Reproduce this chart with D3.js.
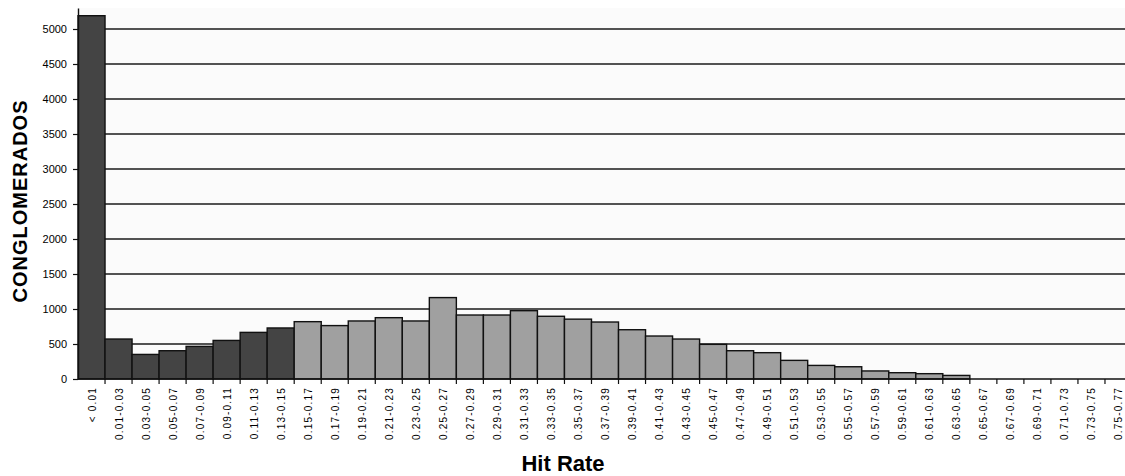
<!DOCTYPE html>
<html lang="es">

<head>
    <meta charset="UTF-8">
    <title>Hit Rate</title>
    <style>
        body { margin: 0; background: #fff; }
        svg text { font-family: "Liberation Sans", Arial, sans-serif; }
    </style>
</head>

<body>

    <div id="my_dataviz"></div>

    <script src="https://d3js.org/d3.v7.min.js"></script>

    <script type="text/javascript">

        // categorias del histograma
        var categories = ["< 0.01", "0.01-0.03", "0.03-0.05", "0.05-0.07", "0.07-0.09", "0.09-0.11",
            "0.11-0.13", "0.13-0.15", "0.15-0.17", "0.17-0.19", "0.19-0.21", "0.21-0.23", "0.23-0.25",
            "0.25-0.27", "0.27-0.29", "0.29-0.31", "0.31-0.33", "0.33-0.35", "0.35-0.37", "0.37-0.39",
            "0.39-0.41", "0.41-0.43", "0.43-0.45", "0.45-0.47", "0.47-0.49", "0.49-0.51", "0.51-0.53",
            "0.53-0.55", "0.55-0.57", "0.57-0.59", "0.59-0.61", "0.61-0.63", "0.63-0.65", "0.65-0.67",
            "0.67-0.69", "0.69-0.71", "0.71-0.73", "0.73-0.75", "0.75-0.77"];

        // numero de conglomerados por clase
        var values = [5190, 571, 351, 404, 466, 551, 666, 729, 819, 763, 829, 876, 829,
            1163, 914, 914, 976, 896, 855, 814, 704, 614, 571, 495, 404, 376, 266,
            194, 175, 115, 90, 76, 51, 0, 0, 0, 0, 0, 0];

        // las primeras clases van en gris oscuro
        var darkCount = 8;

        var yTicks = [0, 500, 1000, 1500, 2000, 2500, 3000, 3500, 4000, 4500, 5000];

        var width = 1125, height = 476;
        var margin = { top: 8, left: 78, right: 1132, bottom: 379 };

        var svg = d3.select("#my_dataviz")
            .append("svg")
            .attr("width", width)
            .attr("height", height);

        var x = d3.scaleBand()
            .domain(categories)
            .range([margin.left, margin.right])
            .padding(0);

        var y = d3.scaleLinear()
            .domain([0, 5300])
            .range([margin.bottom, margin.top]);

        // fondo del area de trazado
        svg.append("rect")
            .attr("x", margin.left)
            .attr("y", margin.top)
            .attr("width", margin.right - margin.left)
            .attr("height", margin.bottom - margin.top)
            .attr("fill", "#fbfbfb");

        // lineas de cuadricula
        svg.append("g")
            .selectAll("line")
            .data(yTicks.slice(1))
            .enter()
            .append("line")
            .attr("x1", margin.left)
            .attr("x2", margin.right)
            .attr("y1", function (d) { return y(d); })
            .attr("y2", function (d) { return y(d); })
            .attr("stroke", "#1a1a1a")
            .attr("stroke-width", 1.4);

        // barras
        svg.append("g")
            .selectAll("rect")
            .data(values)
            .enter()
            .append("rect")
            .attr("x", function (d, i) { return x(categories[i]); })
            .attr("y", function (d) { return y(d); })
            .attr("width", x.bandwidth())
            .attr("height", function (d) { return y(0) - y(d); })
            .attr("fill", function (d, i) { return i < darkCount ? "#444444" : "#a0a0a0"; })
            .attr("stroke", function (d) { return d > 0 ? "#111" : "none"; })
            .attr("stroke-width", 1.4);

        // eje Y
        var yAxis = svg.append("g")
            .attr("transform", "translate(" + margin.left + ",0)")
            .call(d3.axisLeft(y).tickValues(yTicks).tickFormat(d3.format("d"))
                .tickSizeInner(5).tickSizeOuter(0).tickPadding(6));
        yAxis.select(".domain").attr("stroke", "#111").attr("stroke-width", 1.4);
        yAxis.selectAll(".tick line").attr("stroke", "#111").attr("stroke-width", 1.2);
        yAxis.selectAll("text")
            .style("font-size", "11px")
            .attr("fill", "#000");

        // eje X con marcas en los limites de clase
        svg.append("line")
            .attr("x1", margin.left)
            .attr("x2", margin.right)
            .attr("y1", y(0))
            .attr("y2", y(0))
            .attr("stroke", "#111")
            .attr("stroke-width", 1.6);

        svg.append("g")
            .selectAll("line")
            .data(categories)
            .enter()
            .append("line")
            .attr("x1", function (d) { return x(d) + x.bandwidth(); })
            .attr("x2", function (d) { return x(d) + x.bandwidth(); })
            .attr("y1", y(0))
            .attr("y2", y(0) + 5)
            .attr("stroke", "#111")
            .attr("stroke-width", 1.2);

        svg.append("g")
            .selectAll("text")
            .data(categories)
            .enter()
            .append("text")
            .attr("transform", function (d) {
                return "translate(" + (x(d) + x.bandwidth() / 2 + 4) + "," + (y(0) + 8) + ") rotate(-90)";
            })
            .attr("text-anchor", "end")
            .style("font-size", "10px")
            .style("letter-spacing", "1.2px")
            .text(function (d) { return d; });

        // titulos
        svg.append("text")
            .attr("transform", "translate(27,201) rotate(-90)")
            .attr("text-anchor", "middle")
            .style("font-size", "20px")
            .style("font-weight", "bold")
            .style("letter-spacing", "1px")
            .text("CONGLOMERADOS");

        svg.append("text")
            .attr("x", 563)
            .attr("y", 471)
            .attr("text-anchor", "middle")
            .style("font-size", "22px")
            .style("font-weight", "bold")
            .text("Hit Rate");

    </script>

</body>

</html>
